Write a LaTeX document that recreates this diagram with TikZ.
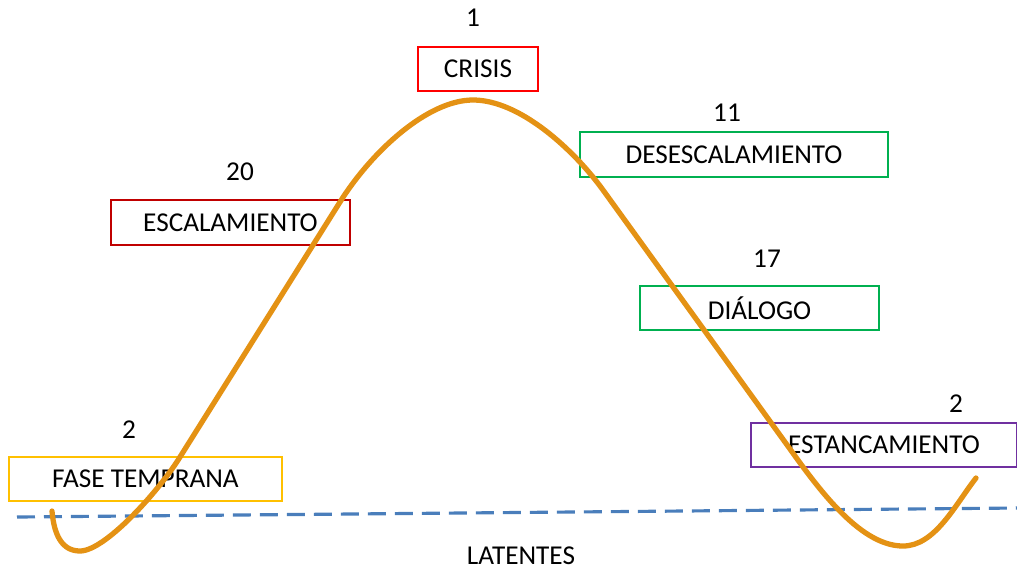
\documentclass[tikz,border=0pt]{standalone}
\usepackage{fontspec}
\setmainfont{Carlito}
\definecolor{curveorange}{RGB}{228,146,20}
\definecolor{dashblue}{RGB}{74,126,187}
\definecolor{boxred}{RGB}{255,0,0}
\definecolor{boxdarkred}{RGB}{192,0,0}
\definecolor{boxgreen}{RGB}{0,176,80}
\definecolor{boxpurple}{RGB}{112,48,160}
\definecolor{boxgold}{RGB}{255,192,0}
\begin{document}
\begin{tikzpicture}[x=0.02cm,y=-0.02cm,
  phasebox/.style={draw, line width=0.9pt, inner sep=0pt, font=\fontsize{15.5}{17}\selectfont, text=black},
  countlabel/.style={inner sep=0pt, font=\fontsize{15.5}{17}\selectfont, text=black},
  curveline/.style={draw=curveorange, line width=3pt, line cap=round, line join=round},
  baseline/.style={draw=dashblue, line width=1.8pt, dash pattern=on 0.36cm off 0.18cm}]
\useasboundingbox (0,0) rectangle (1017,569);

% boxes
\node[phasebox, draw=boxred, minimum width=120*0.02cm, minimum height=44*0.02cm] (crisis) at (478,69) {CRISIS};
\node[phasebox, draw=boxdarkred, minimum width=239*0.02cm, minimum height=45*0.02cm] (escal) at (230.5,222.5) {ESCALAMIENTO};
\node[phasebox, draw=boxgreen, minimum width=308*0.02cm, minimum height=45*0.02cm] (desescal) at (734,154.5) {DESESCALAMIENTO};
\node[phasebox, draw=boxgreen, minimum width=239*0.02cm, minimum height=44*0.02cm] (dialogo) at (759.5,308) {DIÁLOGO};
\node[phasebox, draw=boxpurple, minimum width=266*0.02cm, minimum height=44*0.02cm] (estanc) at (884,445) {ESTANCAMIENTO};
\node[phasebox, draw=boxgold, minimum width=273*0.02cm, minimum height=44*0.02cm] (fase) at (145.5,479) {FASE TEMPRANA};

% counts
\node[countlabel] (ncrisis) at (473,18) {1};
\node[countlabel] (nescal) at (240,172) {20};
\node[countlabel] (ndesescal) at (727,113) {11};
\node[countlabel] (ndialogo) at (767,259) {17};
\node[countlabel] (nestanc) at (956,404) {2};
\node[countlabel] (nfase) at (129,430) {2};

\node[countlabel] (latentes) at (521,556) {LATENTES};

% baseline
\coordinate (bl) at (17,517);
\coordinate (br) at (1017,508);
\draw[baseline] (bl) -- (br);

% curve points
\coordinate (c0) at (52,511);
\coordinate (c1) at (80,551);
\coordinate (c2) at (180,457);
\coordinate (c3) at (340,202);
\coordinate (c4) at (473,100);
\coordinate (c5) at (603,190);
\coordinate (c6) at (790,449);
\coordinate (c7) at (903,546);
\coordinate (c8) at (976,478);
\draw[curveline] (c0) .. controls (54,535) and (62,551) .. (c1)
  .. controls (105,551) and (159,491) .. (c2)
  -- (c3)
  .. controls (372,151) and (428,100) .. (c4)
  .. controls (520,100) and (574,150) .. (c5)
  -- (c6)
  .. controls (822,494) and (862,546) .. (c7)
  .. controls (935,546) and (955,505) .. (c8);
\end{tikzpicture}
\end{document}
